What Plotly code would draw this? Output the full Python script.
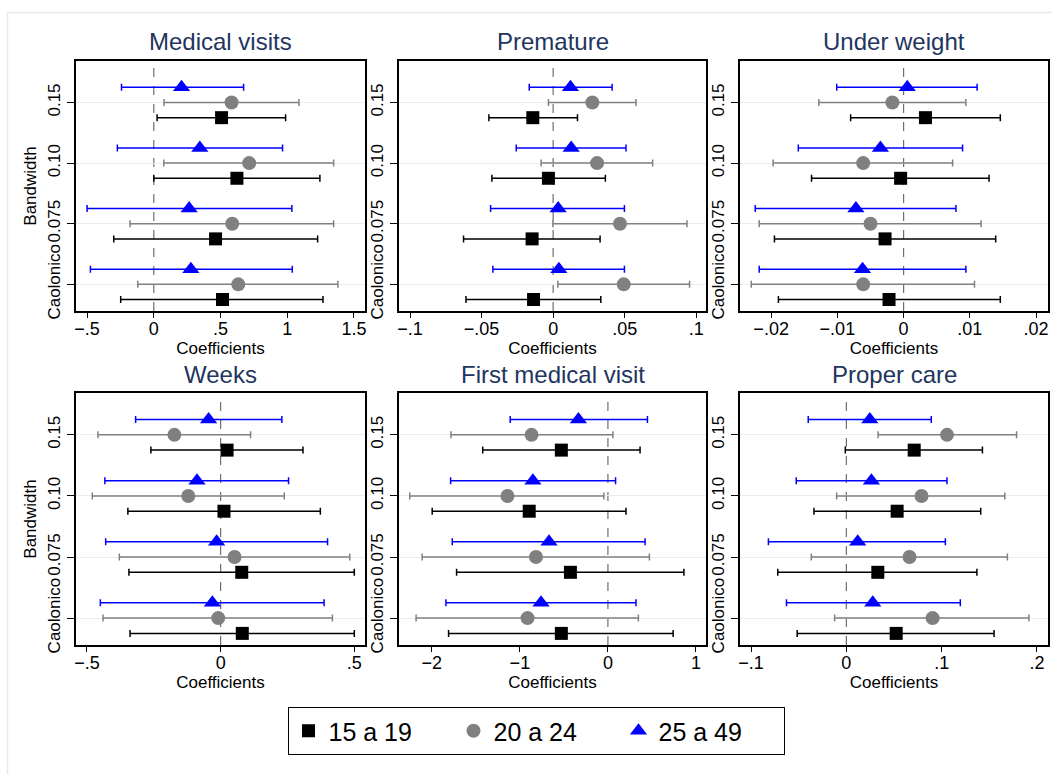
import plotly.graph_objects as go

W, H = 1052, 774

# Bandwidth categories (top to bottom) and age groups
BANDWIDTHS = ["0.15", "0.10", "0.075", "Caolonico"]
GROUPS = ["15 a 19", "20 a 24", "25 a 49"]

# Each list holds one row per age group (15-19, 20-24, 25-49), one value per bandwidth
MEDICAL_VISITS_COEF = [[0.508, 0.623, 0.463, 0.515], [0.583, 0.715, 0.588, 0.633], [0.208, 0.345, 0.265, 0.278]]
MEDICAL_VISITS_LO = [[0.025, 0.0, -0.300, -0.248], [0.077, 0.075, -0.178, -0.120], [-0.242, -0.273, -0.500, -0.475]]
MEDICAL_VISITS_HI = [[0.988, 1.245, 1.228, 1.268], [1.088, 1.348, 1.348, 1.380], [0.673, 0.965, 1.035, 1.038]]

PREMATURE_COEF = [[-0.0142, -0.0033, -0.0147, -0.0137], [0.0274, 0.0307, 0.0467, 0.0493], [0.0121, 0.0126, 0.0035, 0.0040]]
PREMATURE_LO = [[-0.0449, -0.0428, -0.0626, -0.0609], [-0.0033, -0.0084, -0.0002, 0.0033], [-0.0167, -0.0258, -0.0437, -0.0421]]
PREMATURE_HI = [[0.0170, 0.0365, 0.0328, 0.0333], [0.0579, 0.0695, 0.0935, 0.0953], [0.0412, 0.0509, 0.0498, 0.0498]]

UNDER_WEIGHT_COEF = [[0.0033, -0.00045, -0.0028, -0.0022], [-0.0017, -0.0061, -0.0050, -0.0061], [0.00055, -0.0035, -0.0072, -0.0062]]
UNDER_WEIGHT_LO = [[-0.0080, -0.0139, -0.0195, -0.0189], [-0.0128, -0.0197, -0.0218, -0.0230], [-0.0101, -0.0159, -0.0224, -0.0218]]
UNDER_WEIGHT_HI = [[0.0146, 0.0129, 0.0139, 0.0146], [0.0094, 0.0074, 0.0117, 0.0107], [0.0111, 0.0089, 0.0079, 0.0094]]

WEEKS_COEF = [[0.024, 0.0125, 0.079, 0.081], [-0.173, -0.121, 0.052, -0.009], [-0.045, -0.0885, -0.015, -0.031]]
WEEKS_LO = [[-0.261, -0.347, -0.343, -0.339], [-0.459, -0.480, -0.379, -0.440], [-0.318, -0.433, -0.430, -0.450]]
WEEKS_HI = [[0.308, 0.373, 0.500, 0.500], [0.112, 0.238, 0.483, 0.418], [0.229, 0.254, 0.400, 0.387]]

FIRST_VISIT_COEF = [[-0.529, -0.894, -0.426, -0.529], [-0.867, -1.141, -0.817, -0.913], [-0.335, -0.852, -0.669, -0.760]]
FIRST_VISIT_LO = [[-1.422, -1.996, -1.719, -1.810], [-1.783, -2.251, -2.110, -2.179], [-1.110, -1.787, -1.768, -1.840]]
FIRST_VISIT_HI = [[0.365, 0.205, 0.863, 0.741], [0.057, -0.046, 0.471, 0.346], [0.449, 0.087, 0.422, 0.319]]

PROPER_CARE_COEF = [[0.0712, 0.0533, 0.0330, 0.0523], [0.1056, 0.0789, 0.0663, 0.0905], [0.0246, 0.0263, 0.0119, 0.0277]]
PROPER_CARE_LO = [[-0.0011, -0.0340, -0.0720, -0.0516], [0.0333, -0.0102, -0.0368, -0.0123], [-0.0400, -0.0526, -0.0818, -0.0628]]
PROPER_CARE_HI = [[0.1428, 0.1410, 0.1370, 0.1550], [0.1786, 0.1663, 0.1690, 0.1916], [0.0891, 0.1056, 0.1039, 0.1196]]

# x-axis ticks per panel
MEDICAL_VISITS_TICKS = [-0.5, 0, 0.5, 1, 1.5]
MEDICAL_VISITS_TICKTEXT = ["\u2212.5", "0", ".5", "1", "1.5"]
PREMATURE_TICKS = [-0.1, -0.05, 0, 0.05, 0.1]
PREMATURE_TICKTEXT = ["\u2212.1", "\u2212.05", "0", ".05", ".1"]
UNDER_WEIGHT_TICKS = [-0.02, -0.01, 0, 0.01, 0.02]
UNDER_WEIGHT_TICKTEXT = ["\u2212.02", "\u2212.01", "0", ".01", ".02"]
WEEKS_TICKS = [-0.5, 0, 0.5]
WEEKS_TICKTEXT = ["\u2212.5", "0", ".5"]
FIRST_VISIT_TICKS = [-2, -1, 0, 1]
FIRST_VISIT_TICKTEXT = ["\u22122", "\u22121", "0", "1"]
PROPER_CARE_TICKS = [-0.1, 0, 0.1, 0.2]
PROPER_CARE_TICKTEXT = ["\u2212.1", "0", ".1", ".2"]

panels = [
    dict(title="Medical visits", coef=MEDICAL_VISITS_COEF, lo=MEDICAL_VISITS_LO, hi=MEDICAL_VISITS_HI,
         ticks=MEDICAL_VISITS_TICKS, ticktext=MEDICAL_VISITS_TICKTEXT, xrange=[-0.583, 1.583]),
    dict(title="Premature", coef=PREMATURE_COEF, lo=PREMATURE_LO, hi=PREMATURE_HI,
         ticks=PREMATURE_TICKS, ticktext=PREMATURE_TICKTEXT, xrange=[-0.1077, 0.1068]),
    dict(title="Under weight", coef=UNDER_WEIGHT_COEF, lo=UNDER_WEIGHT_LO, hi=UNDER_WEIGHT_HI,
         ticks=UNDER_WEIGHT_TICKS, ticktext=UNDER_WEIGHT_TICKTEXT, xrange=[-0.0247, 0.0218]),
    dict(title="Weeks", coef=WEEKS_COEF, lo=WEEKS_LO, hi=WEEKS_HI,
         ticks=WEEKS_TICKS, ticktext=WEEKS_TICKTEXT, xrange=[-0.541, 0.540]),
    dict(title="First medical visit", coef=FIRST_VISIT_COEF, lo=FIRST_VISIT_LO, hi=FIRST_VISIT_HI,
         ticks=FIRST_VISIT_TICKS, ticktext=FIRST_VISIT_TICKTEXT, xrange=[-2.373, 1.114]),
    dict(title="Proper care", coef=PROPER_CARE_COEF, lo=PROPER_CARE_LO, hi=PROPER_CARE_HI,
         ticks=PROPER_CARE_TICKS, ticktext=PROPER_CARE_TICKTEXT, xrange=[-0.1116, 0.2116]),
]

# Group styles: colour, symbol, size, vertical offset within a bandwidth row
STYLES = [
    dict(color="#000000", symbol="square", size=13, offset=-0.25),
    dict(color="#808080", symbol="circle", size=14, offset=0.0),
    dict(color="#0000ff", symbol="triangle-up", size=15, offset=0.25),
]

FONT = "Liberation Sans, Arial, Helvetica, sans-serif"
TITLE_COLOR = "#22355e"

# Plot-area geometry in pixels
COL_X = [(76, 365), (399, 706), (740, 1048)]
ROW_Y = [(61, 311), (393, 645)]
TITLE_Y = [42, 374]

cat_y = [4, 3, 2, 1]

fig = go.Figure()
layout_axes = {}
annotations = []
shapes = []

for i, p in enumerate(panels):
    r, c = divmod(i, 3)
    n = i + 1
    xa = "x" if n == 1 else f"x{n}"
    ya = "y" if n == 1 else f"y{n}"
    for g, st in enumerate(STYLES):
        ys = [v + st["offset"] for v in cat_y]
        coef = p["coef"][g]
        plus = [h - m for h, m in zip(p["hi"][g], coef)]
        minus = [m - l for m, l in zip(coef, p["lo"][g])]
        fig.add_trace(go.Scatter(
            x=coef, y=ys, xaxis=xa, yaxis=ya, mode="markers",
            name=GROUPS[g], legendgroup=GROUPS[g], showlegend=(i == 0),
            marker=dict(color=st["color"], symbol=st["symbol"], size=st["size"], line=dict(width=0)),
            error_x=dict(type="data", symmetric=False, array=plus, arrayminus=minus,
                         color=st["color"], thickness=1.5, width=3.5),
            hoverinfo="skip",
        ))

    x0, x1 = COL_X[c]
    y0, y1 = ROW_Y[r]
    xkey = "xaxis" if n == 1 else f"xaxis{n}"
    ykey = "yaxis" if n == 1 else f"yaxis{n}"
    layout_axes[xkey] = dict(
        domain=[x0 / W, x1 / W], anchor=ya, range=p["xrange"],
        tickmode="array", tickvals=p["ticks"], ticktext=p["ticktext"],
        ticks="outside", ticklen=5, tickwidth=1, tickcolor="black", ticklabelstandoff=-5,
        showline=True, linecolor="black", linewidth=2, mirror=True,
        showgrid=False, zeroline=False,
        tickfont=dict(family=FONT, size=18, color="black"),
        title=dict(text="Coefficients", font=dict(family=FONT, size=17, color="black"), standoff=2),
    )
    layout_axes[ykey] = dict(
        domain=[1 - y1 / H, 1 - y0 / H], anchor=xa, range=[0.56, 4.685],
        tickmode="array", tickvals=cat_y, ticktext=BANDWIDTHS, tickangle=-90,
        ticks="outside", ticklen=7, tickwidth=1, tickcolor="black",
        showline=True, linecolor="black", linewidth=2, mirror=True,
        showgrid=True, gridcolor="#e6eef0", gridwidth=1, zeroline=False,
        tickfont=dict(family=FONT, size=17, color="black"),
        title=dict(text="Bandwidth" if c == 0 else "", font=dict(family=FONT, size=17, color="black"), standoff=4),
    )
    annotations.append(dict(
        text=p["title"], xref="paper", yref="paper", x=(x0 + x1) / 2 / W, y=1 - TITLE_Y[r] / H,
        xanchor="center", yanchor="middle", showarrow=False,
        font=dict(family=FONT, size=24, color=TITLE_COLOR),
    ))
    # Dashed reference line at zero
    shapes.append(dict(
        type="line", xref=xa, yref="paper", x0=0, x1=0, y0=1 - y1 / H, y1=1 - y0 / H,
        line=dict(color="#6e6e6e", width=1.2, dash="dash"), layer="below",
    ))

# Light outer frame of the graph region
shapes.append(dict(
    type="rect", xref="paper", yref="paper", x0=7.5 / W, x1=1.05, y0=-0.05, y1=1 - 12.5 / H,
    line=dict(color="#e3ecee", width=1.5), layer="below",
))

fig.update_layout(
    width=W, height=H, margin=dict(l=0, r=0, t=0, b=0, autoexpand=False),
    paper_bgcolor="white", plot_bgcolor="white",
    font=dict(family=FONT, color="black"),
    annotations=annotations, shapes=shapes,
    legend=dict(
        orientation="h", x=536 / W, y=1 - 755 / H, xanchor="center", yanchor="bottom",
        bordercolor="black", borderwidth=1, bgcolor="white",
        font=dict(family=FONT, size=25, color="black"),
        itemsizing="trace", traceorder="normal",
        entrywidth=120, entrywidthmode="pixels",
    ),
    showlegend=True,
    **layout_axes,
)

fig.write_html("out.html")
